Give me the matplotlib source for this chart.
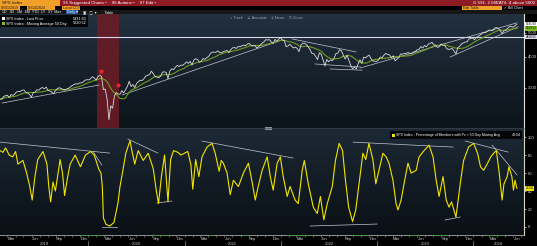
import matplotlib.pyplot as plt
import matplotlib.transforms as mtransforms
from matplotlib.colors import LinearSegmentedColormap
from matplotlib.patches import Rectangle
from matplotlib.ticker import NullLocator, NullFormatter
import numpy as np
import pandas as pd

plt.rcParams['font.family'] = ['Liberation Sans', 'DejaVu Sans']

# SPX weekly closes (Fridays), Feb 2019 - Jun 2024
spx_2019 = [2706.53, 2707.88, 2775.60, 2792.67, 2803.69, 2743.07, 2822.48, 2800.71, 2834.40,
            2892.74, 2907.41, 2905.03, 2939.88, 2945.64, 2881.40, 2859.53, 2826.06, 2752.06,
            2873.34, 2886.98, 2950.46, 2941.76, 2990.41, 3013.77, 2976.61, 3025.86, 2932.05,
            2918.65, 2888.68, 2847.11, 2926.46, 2978.71, 3007.39, 2992.07, 2961.79, 2952.01,
            2970.27, 2986.20, 3022.55, 3066.91, 3093.08, 3120.46, 3110.29, 3140.98, 3145.91,
            3168.80, 3221.22, 3240.02]
spx_2020 = [3234.85, 3265.35, 3329.62, 3295.47, 3225.52, 3327.71, 3380.16, 3337.75, 2954.22,
            2972.37, 2711.02, 2237.40, 2541.47, 2488.65, 2789.82, 2874.56, 2836.74, 2830.71,
            2929.80, 2863.70, 2955.45, 3044.31, 3193.93, 3041.31, 3097.74, 3009.05, 3130.01,
            3185.04, 3224.73, 3215.63, 3271.12, 3351.28, 3372.85, 3397.16, 3508.01, 3426.96,
            3340.97, 3319.47, 3298.46, 3348.42, 3477.13, 3483.81, 3465.39, 3269.96, 3509.44,
            3585.15, 3557.54, 3638.35, 3699.12, 3663.46, 3709.41, 3703.06]
spx_2021 = [3756.07, 3824.68, 3768.25, 3841.47, 3714.24, 3886.83, 3934.83, 3906.71, 3811.15,
            3841.94, 3943.34, 3913.10, 3974.54, 4019.87, 4128.80, 4185.47, 4180.17, 4181.17,
            4232.60, 4173.85, 4155.86, 4204.11, 4229.89, 4247.44, 4166.45, 4280.70, 4352.34,
            4369.55, 4327.16, 4411.79, 4395.26, 4436.52, 4468.00, 4441.67, 4509.37, 4535.43,
            4458.58, 4432.99, 4455.48, 4357.04, 4391.34, 4471.37, 4544.90, 4605.38, 4697.53,
            4682.85, 4697.96, 4594.62, 4538.43, 4712.02, 4620.64, 4725.79, 4796.56]
spx_2022 = [4677.03, 4662.85, 4397.94, 4431.85, 4500.53, 4418.64, 4348.87, 4384.65, 4328.87,
            4204.31, 4463.12, 4543.06, 4545.86, 4488.28, 4392.59, 4271.78, 4131.93, 4123.34,
            4023.89, 3901.36, 4158.24, 4108.54, 3900.86, 3674.84, 3911.74, 3825.33, 3899.38,
            3863.16, 3961.63, 4130.29, 4145.19, 4280.15, 4228.48, 4057.66, 3924.26, 4067.36,
            3873.33, 3693.23, 3585.62, 3639.66, 3583.07, 3752.75, 3901.06, 3770.55, 3992.93,
            3965.34, 4026.12, 4071.70, 3934.38, 3852.36, 3844.82, 3839.50]
spx_2023 = [3895.08, 3999.09, 3972.61, 4070.56, 4136.48, 4090.46, 4079.09, 3970.04, 4045.64,
            3861.59, 3916.64, 3970.99, 4109.31, 4105.02, 4137.64, 4133.52, 4169.48, 4136.25,
            4124.08, 4191.98, 4205.45, 4282.37, 4298.86, 4409.59, 4348.33, 4450.38, 4398.95,
            4505.42, 4536.34, 4582.23, 4478.03, 4464.05, 4369.71, 4405.71, 4515.77, 4457.49,
            4450.32, 4320.06, 4288.05, 4308.50, 4327.78, 4224.16, 4117.37, 4358.34, 4415.24,
            4514.02, 4559.34, 4594.63, 4604.37, 4719.19, 4754.63, 4769.83]
spx_2024 = [4697.24, 4783.83, 4839.81, 4890.97, 4958.61, 5026.61, 5005.57, 5088.80, 5137.08,
            5123.69, 5117.09, 5234.18, 5254.35, 5204.34, 5123.41, 4967.23, 5099.96, 5127.79,
            5222.68, 5303.27, 5304.72, 5277.51, 5346.99, 5431.60]

spx_close = spx_2019 + spx_2020 + spx_2021 + spx_2022 + spx_2023 + spx_2024
spx_dates = pd.date_range('2019-02-01', '2024-06-14', freq='W-FRI')
spx_ma50 = pd.Series(spx_close, index=spx_dates).rolling(10, min_periods=1).mean()

# % of members above 50 day moving average
breadth_dates = pd.to_datetime([
    '2019-02-01', '2019-02-12', '2019-02-22', '2019-03-08', '2019-03-21', '2019-04-01',
    '2019-04-10', '2019-04-29', '2019-05-13', '2019-05-25', '2019-06-03', '2019-06-13',
    '2019-06-24', '2019-07-14', '2019-07-29', '2019-08-05', '2019-08-12', '2019-08-21',
    '2019-08-30', '2019-09-17', '2019-09-26', '2019-10-04', '2019-10-15', '2019-10-25',
    '2019-11-13', '2019-12-03', '2019-12-22', '2020-01-11', '2020-01-24', '2020-01-31',
    '2020-02-11', '2020-02-19', '2020-02-24', '2020-02-28', '2020-03-09', '2020-03-23',
    '2020-04-08', '2020-04-23', '2020-05-01', '2020-05-12', '2020-05-23', '2020-06-08',
    '2020-06-15', '2020-06-26', '2020-07-09', '2020-07-28', '2020-08-16', '2020-09-04',
    '2020-09-16', '2020-09-24', '2020-10-05', '2020-10-17', '2020-10-30', '2020-11-09',
    '2020-11-20', '2020-12-07', '2020-12-18', '2021-01-13', '2021-01-25', '2021-02-01',
    '2021-02-12', '2021-02-24', '2021-03-08', '2021-03-27', '2021-04-15', '2021-04-27',
    '2021-05-12', '2021-05-20', '2021-05-28', '2021-06-11', '2021-06-23', '2021-07-05',
    '2021-07-24', '2021-08-12', '2021-08-31', '2021-09-14', '2021-09-26', '2021-10-07',
    '2021-10-22', '2021-11-10', '2021-11-22', '2021-12-03', '2021-12-18', '2021-12-30',
    '2022-01-10', '2022-01-25', '2022-02-05', '2022-02-24', '2022-03-08', '2022-03-23',
    '2022-03-31', '2022-04-15', '2022-05-04', '2022-05-19', '2022-05-31', '2022-06-13',
    '2022-06-26', '2022-07-15', '2022-07-27', '2022-08-10', '2022-08-23', '2022-09-03',
    '2022-09-15', '2022-09-30', '2022-10-12', '2022-10-31', '2022-11-08', '2022-11-19',
    '2022-12-01', '2022-12-16', '2022-12-27', '2023-01-08', '2023-01-23', '2023-02-04',
    '2023-02-15', '2023-03-02', '2023-03-14', '2023-03-21', '2023-04-02', '2023-04-13',
    '2023-04-28', '2023-05-10', '2023-05-29', '2023-06-09', '2023-06-28', '2023-07-17',
    '2023-08-01', '2023-08-13', '2023-08-24', '2023-09-08', '2023-09-20', '2023-10-01',
    '2023-10-10', '2023-10-18', '2023-10-27', '2023-11-14', '2023-11-25', '2023-12-14',
    '2024-01-02', '2024-01-17', '2024-01-28', '2024-02-09', '2024-02-24', '2024-03-07',
    '2024-03-18', '2024-03-28', '2024-04-07', '2024-04-19', '2024-04-26', '2024-05-08',
    '2024-05-15', '2024-05-26', '2024-06-01', '2024-06-07', '2024-06-14'])
breadth_pct = [
    85, 83, 88, 80, 78, 84, 70, 74, 60, 45, 30, 55,
    75, 84, 70, 45, 28, 50, 40, 75, 60, 35, 55, 70,
    80, 67, 80, 84, 80, 74, 64, 60, 45, 10, 3, 1,
    5, 26, 45, 63, 82, 96, 85, 70, 85, 74, 82, 65,
    40, 26, 56, 80, 28, 75, 85, 83, 80, 84, 69, 42,
    75, 56, 78, 89, 93, 82, 62, 74, 71, 60, 36, 52,
    45, 60, 71, 50, 30, 45, 63, 78, 56, 41, 71, 78,
    56, 34, 45, 30, 26, 63, 74, 48, 22, 15, 34, 8,
    26, 45, 74, 93, 85, 52, 22, 6, 19, 63, 82, 75,
    93, 75, 48, 63, 82, 78, 71, 52, 26, 19, 30, 48,
    71, 60, 63, 78, 85, 91, 78, 52, 34, 56, 30, 22,
    28, 20, 11, 52, 74, 89, 93, 82, 67, 63, 71, 78,
    82, 85, 63, 30, 48, 56, 67, 56, 41, 52, 43.04]

# hand drawn trend lines: (start date, start level, end date, end level)
ath_level = 4818.62
price_trends = [
    ('2019-02-09', 2610, '2020-02-12', 3085),
    ('2020-05-09', 2811, '2022-01-06', 4686),
    ('2022-02-13', 4728, '2022-10-13', 4191),
    ('2022-05-11', 3749, '2022-10-29', 3646),
    ('2022-07-07', 3579, '2022-11-05', 3541),
    ('2022-10-29', 3612, '2024-06-14', 5491),
    ('2023-10-05', 3999, '2024-06-19', 5295),
]
breadth_trends = [
    ('2019-02-01', 94.4, '2020-03-23', 82.2),
    ('2020-01-19', 84.4, '2020-02-22', 68.9),
    ('2020-02-22', 0.5, '2020-04-19', 0.5),
    ('2020-05-31', 97.8, '2020-09-22', 82.2),
    ('2020-09-18', 26.7, '2020-11-14', 28.9),
    ('2021-03-08', 95.6, '2022-02-16', 76.7),
    ('2022-04-22', 1.1, '2023-01-01', 3.3),
    ('2022-10-02', 94.4, '2023-10-16', 88.9),
    ('2023-09-16', 7.8, '2023-11-12', 11.1),
    ('2023-12-01', 95.6, '2024-05-12', 83.3),
    ('2024-03-12', 91.1, '2024-06-15', 57.8),
]
covid_window = ('2020-02-03', '2020-04-28')
alert_dates = pd.to_datetime(['2020-02-19', '2020-04-24'])
alert_levels = [3520, 3090]
strip_marks = [('2019-12-09', '2020-02-22'), ('2020-09-11', '2020-11-07'),
               ('2021-04-07', '2021-04-19'), ('2021-08-11', '2021-08-30'),
               ('2022-01-28', '2022-05-02'), ('2022-10-02', '2022-11-28'),
               ('2023-05-06', '2023-06-05'), ('2023-08-01', '2023-09-23'),
               ('2024-02-22', '2024-04-23')]

W, H = 537, 246
x_start, x_end = pd.Timestamp('2019-02-01'), pd.Timestamp('2024-07-11')


def frect(x0, y0, x1, y1):
    return [x0 / W, 1 - y1 / H, (x1 - x0) / W, (y1 - y0) / H]


def bar(x0, y0, x1, y1, color, **kw):
    fig.add_artist(Rectangle((x0 / W, 1 - y1 / H), (x1 - x0) / W, (y1 - y0) / H,
                             transform=fig.transFigure, facecolor=color,
                             edgecolor='none', **kw))


def label(x, y, s, size=3.2, color='white', ha='left', **kw):
    fig.text(x / W, 1 - y / H, s, fontsize=size, color=color, ha=ha, va='center', **kw)


def panel(rect, top, bottom):
    bg = fig.add_axes(rect, zorder=0)
    cmap = LinearSegmentedColormap.from_list('bg', [bottom, top])
    bg.imshow(np.linspace(0, 1, 64).reshape(-1, 1), cmap=cmap, aspect='auto',
              extent=[0, 1, 0, 1], origin='lower')
    bg.axis('off')
    ax = fig.add_axes(rect, zorder=1)
    ax.patch.set_alpha(0)
    ax.set_xlim(x_start, x_end)
    ax.set_xticks([])
    for s in ['left', 'top', 'bottom']:
        ax.spines[s].set_visible(False)
    ax.yaxis.tick_right()
    return ax


fig = plt.figure(figsize=(W / 100, H / 100), dpi=100)
fig.patch.set_facecolor('black')

# ---- header bars
bar(0, 0, 60, 6, '#f0a028')
bar(60, 0, W, 6, '#8e1a24')
label(2, 3, 'SPX Index', color='#1a1a1a')
label(63, 3, '96 Suggested Charts \u2022    96 Actions \u2022    97 Edit \u2022')
label(535, 3, 'G 591: 2.08EAT#: 4 above 5000', ha='right')
bar(0, 6.5, 20, 9.8, '#f0a028')
bar(27, 6.5, 55, 9.8, '#f0a028')
bar(62, 6.5, 80, 9.8, '#f0a028')
bar(462, 6.5, 502, 9.8, '#f0a028')
label(1, 8.2, '02/01/2019', size=2.6, color='#1a1a1a')
label(22, 8.2, '-', size=2.6)
label(28, 8.2, '06/14/2024', size=2.6, color='#1a1a1a')
label(63, 8.2, 'Local CCY', size=2.6, color='#1a1a1a')
label(463, 8.2, 'Edit Table', size=2.6, color='#1a1a1a')
label(504, 8.2, '\u2713 Bill Chart', size=2.6)
bar(0, 10, W, 14, '#161616')
bar(66, 10.3, 78, 13.7, '#2a5caa')
label(2, 12, '1D   3D   1M   6M  YTD  1Y   5Y  Max', size=2.6)
label(67, 12, 'Daily \u25be', size=2.6)
label(83, 12, '\u25a3   \u25a2  \u25be        Table', size=2.6)

# ---- upper panel: price + 50 day MA
ax1 = panel(frect(0, 14, 524, 128), '#22313f', '#0c131a')
ax1.set_yscale('log')
ax1.axvspan(pd.Timestamp(covid_window[0]), pd.Timestamp(covid_window[1]),
            color='#6e1b25', alpha=0.85, lw=0)
ax1.axhline(ath_level, color='#d6d6ec', lw=0.8)
for d0, v0, d1, v1 in price_trends:
    ax1.plot([pd.Timestamp(d0), pd.Timestamp(d1)], [v0, v1], color='#c4c4d2', lw=0.5)
ax1.plot(spx_dates, spx_ma50, color='#6c9e1c', lw=0.8)
ax1.plot(spx_dates, spx_close, color='#dcdcdc', lw=0.6)
ax1.plot(alert_dates, alert_levels, 'p', color='#e8232b', ms=3.5, mec='none')
ax1.set_ylim(2070, 5960)
ax1.set_yticks([3000, 4000, 5000])
ax1.set_yticklabels(['3000', '4000', '5000'])
ax1.yaxis.set_minor_locator(NullLocator())
ax1.yaxis.set_minor_formatter(NullFormatter())
ax1.tick_params(axis='y', colors='#d8d8d8', labelsize=3, length=1.5, width=0.5, pad=1)
ax1.spines['right'].set_color('#e0e0e0')
ax1.spines['right'].set_linewidth(0.8)
ax1.spines['bottom'].set_visible(True)
ax1.spines['bottom'].set_color('#4a5560')
ax1.spines['bottom'].set_linewidth(0.5)

t1 = mtransforms.blended_transform_factory(ax1.transAxes, ax1.transData)
for val, fc in [(spx_close[-1], 'white'), (spx_ma50.iloc[-1], '#7cbf1a'), (ath_level, '#dcdcec')]:
    ax1.text(1.003, val, f'{val:.2f}', transform=t1, fontsize=2.2, color='black',
             va='center', ha='left', clip_on=False,
             bbox=dict(boxstyle='square,pad=0.1', fc=fc, ec='none'))

bar(0, 15, 88, 27, '#000000', alpha=0.85)
bar(2, 17, 5, 20, '#ffffff')
bar(2, 22, 5, 25, '#7cbf1a')
label(6, 18.5, 'SPX Index - Last Price', size=2.7)
label(6, 23.5, 'SPX Index - Moving Average 50 Day', size=2.7)
label(87, 18.5, f'{spx_close[-1]:.2f}', size=2.7, ha='right')
label(87, 23.5, f'{spx_ma50.iloc[-1]:.2f}', size=2.7, ha='right')
label(230, 17.5, '+ Track    \u2220 Annotate    \u2261 News    \u26b2 Zoom', size=2.8, color='#9aa3ab')
bar(265, 127, 272, 129.5, '#8a8f94')

# ---- lower panel: breadth
ax2 = panel(frect(0, 129, 524, 235), '#1c2935', '#0a1015')
for d0, v0, d1, v1 in breadth_trends:
    ax2.plot([pd.Timestamp(d0), pd.Timestamp(d1)], [v0, v1], color='#c4c4d2', lw=0.5)
ax2.plot(breadth_dates, breadth_pct, color='#f2e400', lw=0.8)
ax2.set_ylim(-8.9, 109)
ax2.set_yticks(range(0, 101, 20))
ax2.tick_params(axis='y', colors='#d8d8d8', labelsize=3, length=1.5, width=0.5, pad=1)
ax2.spines['right'].set_color('#d8d8c0')
ax2.spines['right'].set_linewidth(0.8)
t2 = mtransforms.blended_transform_factory(ax2.transAxes, ax2.transData)
ax2.text(1.003, breadth_pct[-1], f'{breadth_pct[-1]:.2f}', transform=t2, fontsize=2.2,
         color='black', va='center', ha='left', clip_on=False,
         bbox=dict(boxstyle='square,pad=0.1', fc='#f2e400', ec='none'))

bar(390, 131, 522, 139, '#000000', alpha=0.85)
bar(392, 133.5, 395, 136.5, '#f2e400')
label(396.5, 135, 'SPX Index - Percentage of Members with Px > 50 Day Moving Avg', size=2.5)
label(521, 135, f'{breadth_pct[-1]:.2f}', size=2.5, ha='right')

# ---- date strip
ax3 = fig.add_axes(frect(0, 235, 524, 246))
ax3.set_facecolor('black')
ax3.set_xlim(x_start, x_end)
ax3.set_ylim(0, 1)
ax3.axis('off')
ax3.axhline(0.97, color='#8c8c8c', lw=0.8)
for d0, d1 in strip_marks:
    ax3.plot([pd.Timestamp(d0), pd.Timestamp(d1)], [0.97, 0.97], color='#2f9a2a', lw=1.1)
for m in pd.date_range('2019-03-01', '2024-07-01', freq='MS'):
    ax3.plot([m, m], [0.78, 0.97], color='#8c8c8c', lw=0.4)
for m in pd.date_range('2019-03-01', '2024-06-01', freq='3MS'):
    ax3.text(m + pd.Timedelta(days=15), 0.6, m.strftime('%b'), fontsize=3,
             color='#cfcfcf', ha='center', va='center')
for yr in range(2019, 2025):
    y0 = max(pd.Timestamp(f'{yr}-01-01'), x_start)
    y1 = min(pd.Timestamp(f'{yr + 1}-01-01'), x_end)
    ax3.text(y0 + (y1 - y0) / 2, 0.2, str(yr), fontsize=3, color='#cfcfcf',
             ha='center', va='center')
    if yr > 2019:
        ax3.plot([y0, y0], [0, 0.45], color='#8c8c8c', lw=0.5)

fig.savefig('out.png', dpi=100, facecolor='black')
